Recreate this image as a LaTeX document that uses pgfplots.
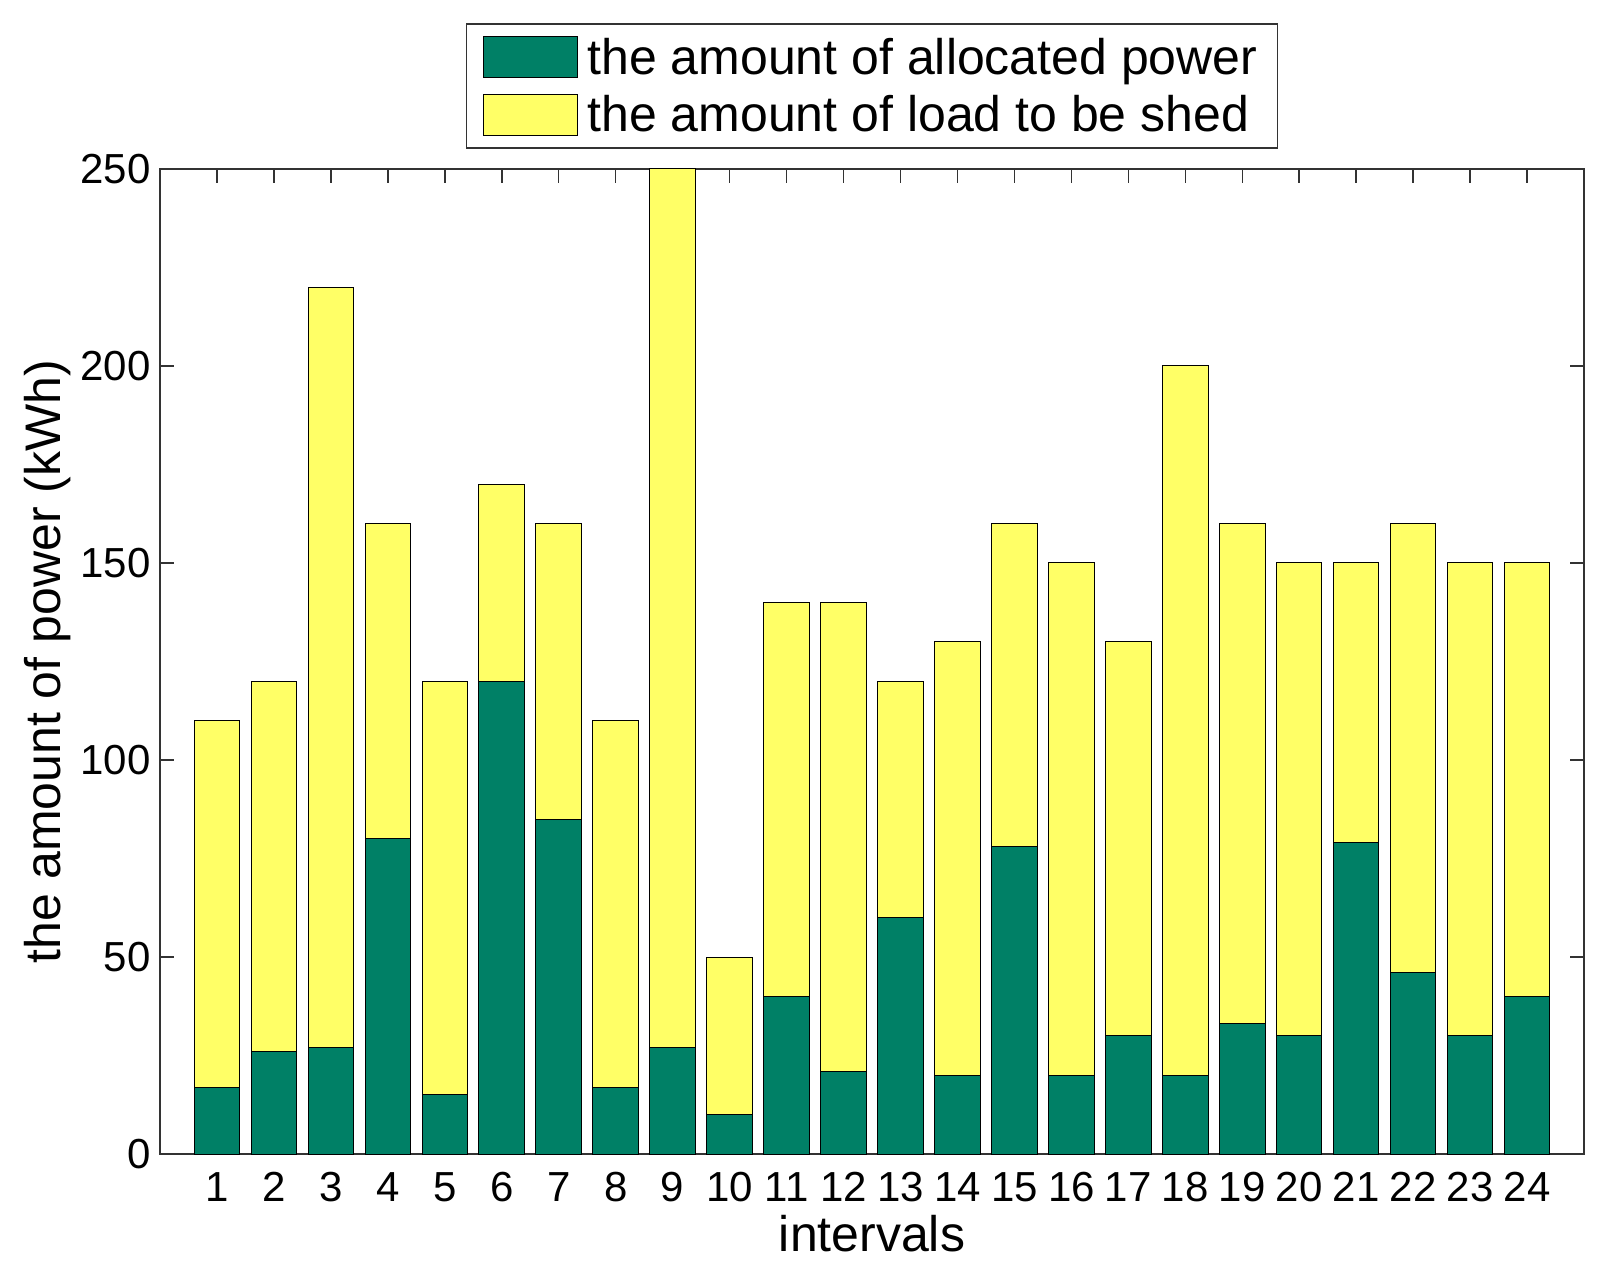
\documentclass[border=0pt]{standalone}
\usepackage{fontspec}
\setmainfont{Liberation Sans}
\usepackage{pgfplots}
\pgfplotsset{compat=1.18}
\definecolor{sgreen}{rgb}{0,0.5,0.4}
\definecolor{syellow}{rgb}{1,1,0.4}

\begin{document}
\begin{tikzpicture}
\begin{axis}[
  ybar stacked,
  bar width=0.8,
  scale only axis,
  width=712pt, height=492.5pt,
  xmin=0, xmax=25, ymin=0, ymax=250,
  xtick={1,...,24},
  ytick={0,50,...,250},
  tick align=inside,
  major tick length=7pt,
  tick style={black!80, line width=0.75pt},
  axis line style={black!80, line width=0.8pt},
  clip=false,
  /pgf/number format/assume math mode=true,
  ticklabel style={font=\fontsize{21}{24}\selectfont, inner sep=0pt},
  xticklabel style={anchor=north, yshift=-9pt},
  yticklabel style={anchor=east, xshift=-4.5pt},
  xlabel={intervals},
  ylabel={the amount of power (kWh)},
  label style={font=\fontsize{25}{28}\selectfont},
  xlabel style={at={(axis description cs:0.5,-0.081)}, anchor=center},
  ylabel style={at={(axis description cs:-0.0787,0.5)}, anchor=center},
  legend image code/.code={\draw[#1, line width=0.5pt] (0pt,-10.25pt) rectangle (47pt,10.25pt);},
  legend style={at={(0.5,1)}, anchor=south, yshift=10pt, draw=black!80, line width=0.75pt,
    inner xsep=8pt, inner ysep=5pt, row sep=5pt, column sep=3pt,
    font=\fontsize{25}{28}\selectfont, cells={anchor=west}},
]
\addplot[fill=sgreen, draw=black, line width=0.5pt] coordinates {
  (1,17) (2,26) (3,27) (4,80) (5,15) (6,120) (7,85) (8,17) (9,27) (10,10) (11,40) (12,21)
  (13,60) (14,20) (15,78) (16,20) (17,30) (18,20) (19,33) (20,30) (21,79) (22,46) (23,30) (24,40)};
\addplot[fill=syellow, draw=black, line width=0.5pt] coordinates {
  (1,93) (2,94) (3,193) (4,80) (5,105) (6,50) (7,75) (8,93) (9,223) (10,40) (11,100) (12,119)
  (13,60) (14,110) (15,82) (16,130) (17,100) (18,180) (19,127) (20,120) (21,71) (22,114) (23,120) (24,110)};
\legend{the amount of allocated power, the amount of load to be shed}
\path ([shift={(-80pt,-60pt)}]rel axis cs:0,0) rectangle ([shift={(13pt,84.5pt)}]rel axis cs:1,1);
\end{axis}
\end{tikzpicture}
\end{document}
